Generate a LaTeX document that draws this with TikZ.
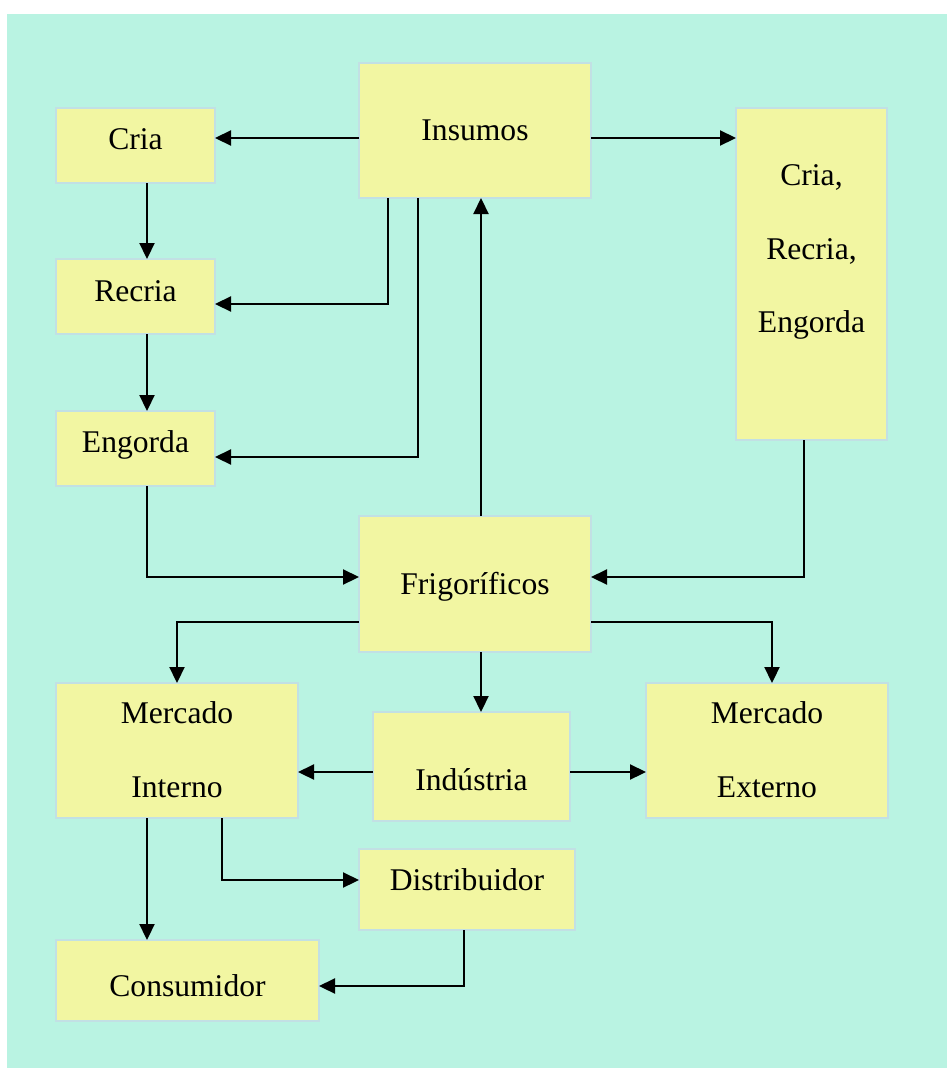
\documentclass[tikz,border=0pt]{standalone}
\usepackage{fontspec}
\setmainfont{Liberation Serif}
\usetikzlibrary{arrows.meta}
\definecolor{bgteal}{HTML}{B9F3E2}
\definecolor{boxfill}{HTML}{F2F6A2}
\definecolor{boxline}{HTML}{C2E0E4}
\begin{document}
\begin{tikzpicture}[x=1pt,y=-1pt,
  box/.style={draw=boxline, line width=2pt, fill=boxfill, inner sep=0pt, outer sep=0pt},
  lbl/.style={anchor=base, inner sep=0pt, font=\fontsize{31.6}{38}\selectfont},
  arr/.style={line width=2.2pt, -{Triangle[length=16pt,width=15pt]}}]
\useasboundingbox[fill=white] (0,0) rectangle (947,1068);
\fill[bgteal] (7,14) rectangle (947,1068);
% boxes
\node[box, minimum width=232pt, minimum height=135pt] (insumos) at (475,130.5) {};
\node[box, minimum width=159pt, minimum height=75pt] (cria) at (135.5,145.5) {};
\node[box, minimum width=159pt, minimum height=75pt] (recria) at (135.5,296.5) {};
\node[box, minimum width=159pt, minimum height=75pt] (engorda) at (135.5,448.5) {};
\node[box, minimum width=151pt, minimum height=332pt] (cre) at (811.5,274) {};
\node[box, minimum width=232pt, minimum height=136pt] (frig) at (475,584) {};
\node[box, minimum width=242pt, minimum height=135pt] (mi) at (177,750.5) {};
\node[box, minimum width=197pt, minimum height=109pt] (ind) at (471.5,766.5) {};
\node[box, minimum width=242pt, minimum height=135pt] (me) at (767,750.5) {};
\node[box, minimum width=216pt, minimum height=81pt] (dist) at (467,889.5) {};
\node[box, minimum width=263pt, minimum height=81pt] (cons) at (187.5,980.5) {};
% labels
\node[lbl] (tinsumos) at (475,140) {Insumos};
\node[lbl] (tcria) at (135.5,149) {Cria};
\node[lbl] (trecria) at (135.5,301) {Recria};
\node[lbl] (tengorda) at (135.5,452.5) {Engorda};
\node[lbl] (tcre1) at (811.5,185) {Cria,};
\node[lbl] (tcre2) at (811.5,259) {Recria,};
\node[lbl] (tcre3) at (811.5,332.7) {Engorda};
\node[lbl] (tfrig) at (475,594.3) {Frigoríficos};
\node[lbl] (tmi1) at (177,723.3) {Mercado};
\node[lbl] (tmi2) at (177,797.7) {Interno};
\node[lbl] (tind) at (471.5,790.7) {Indústria};
\node[lbl] (tme1) at (767,723.3) {Mercado};
\node[lbl] (tme2) at (767,797.7) {Externo};
\node[lbl] (tdist) at (467,890) {Distribuidor};
\node[lbl] (tcons) at (187.5,996) {Consumidor};
% connectors
\draw[arr] (insumos.west |- 0,138) -- (cria.east |- 0,138);
\draw[arr] (insumos.east |- 0,138) -- (cre.west |- 0,138);
\draw[arr] (cria.south -| 147,0) -- (recria.north -| 147,0);
\draw[arr] (recria.south -| 147,0) -- (engorda.north -| 147,0);
\draw[arr] (insumos.south -| 388,0) |- (recria.east |- 0,304);
\draw[arr] (insumos.south -| 418,0) |- (engorda.east |- 0,457);
\draw[arr] (frig.north -| 481,0) -- (insumos.south -| 481,0);
\draw[arr] (engorda.south -| 147,0) |- (frig.west |- 0,577);
\draw[arr] (cre.south -| 804,0) |- (frig.east |- 0,577);
\draw[arr] (frig.west |- 0,622) -| (mi.north -| 177,0);
\draw[arr] (frig.east |- 0,622) -| (me.north -| 772,0);
\draw[arr] (frig.south -| 481,0) -- (ind.north -| 481,0);
\draw[arr] (ind.west |- 0,772) -- (mi.east |- 0,772);
\draw[arr] (ind.east |- 0,772) -- (me.west |- 0,772);
\draw[arr] (mi.south -| 147,0) -- (cons.north -| 147,0);
\draw[arr] (mi.south -| 222,0) |- (dist.west |- 0,880);
\draw[arr] (dist.south -| 464,0) |- (cons.east |- 0,986);
\end{tikzpicture}
\end{document}
